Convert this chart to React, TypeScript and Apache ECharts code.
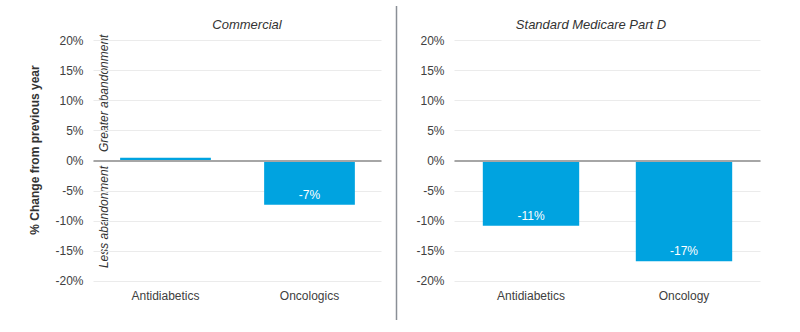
import React, { useEffect, useRef } from "react";
import * as echarts from "echarts";

const commercialCategories = ["Antidiabetics", "Oncologics"];
const commercialValues = [0.5, -7.3];
const commercialLabels = ["", "-7%"];

const medicareCategories = ["Antidiabetics", "Oncology"];
const medicareValues = [-10.8, -16.7];
const medicareLabels = ["-11%", "-17%"];

const panelTitles = ["Commercial", "Standard Medicare Part D"];
const yAxisTitle = "% Change from previous year";
const upNote = "Greater abandonment";
const downNote = "Less abandonment";

const FONT = "'Liberation Sans', Arial, sans-serif";
const BAR = "#00a3e0";
const TXT = "#404040";

export default function App() {
  const ref = useRef<HTMLDivElement>(null);
  useEffect(() => {
    if (!ref.current) return;
    const chart = echarts.init(ref.current, null, { renderer: "svg" });
    const yAxisCommon = (gridIndex: number) => ({
      type: "value",
      gridIndex,
      min: -20,
      max: 20,
      interval: 5,
      axisLine: { show: false },
      axisTick: { show: false },
      axisLabel: {
        formatter: "{value}%",
        color: TXT,
        fontSize: 12,
        fontFamily: FONT,
        margin: 10,
      },
      splitLine: { lineStyle: { color: "#ebebeb", width: 1 } },
    });
    const xAxisCommon = (gridIndex: number, data: string[]) => ({
      type: "category",
      gridIndex,
      data,
      position: "bottom",
      axisLine: { show: false, onZero: false },
      axisTick: { show: false },
      axisLabel: { color: TXT, fontSize: 12, fontFamily: FONT, margin: 9 },
      splitLine: { show: false },
    });
    const seriesCommon = (idx: number, values: number[], labels: string[]) => ({
      type: "bar",
      xAxisIndex: idx,
      yAxisIndex: idx,
      data: values,
      barWidth: "63%",
      itemStyle: { color: BAR },
      label: {
        show: true,
        position: "insideBottom",
        distance: 4,
        color: "#ffffff",
        fontSize: 12,
        fontFamily: FONT,
        formatter: (p: any) => labels[p.dataIndex],
      },
      markLine: {
        silent: true,
        symbol: "none",
        label: { show: false },
        lineStyle: { color: "#a6a6a6", width: 2, type: "solid" },
        data: [{ yAxis: 0 }],
      },
    });
    chart.setOption({
      animation: false,
      grid: [
        { left: 93.5, width: 288, top: 40.5, height: 240.5 },
        { left: 454.5, width: 306, top: 40.5, height: 240.5 },
      ],
      xAxis: [xAxisCommon(0, commercialCategories), xAxisCommon(1, medicareCategories)],
      yAxis: [yAxisCommon(0), yAxisCommon(1)],
      series: [
        seriesCommon(0, commercialValues, commercialLabels),
        seriesCommon(1, medicareValues, medicareLabels),
      ],
      graphic: [
        {
          type: "text",
          x: 247,
          y: 24,
          style: {
            text: panelTitles[0],
            fill: "#333333",
            fontSize: 13,
            fontStyle: "italic",
            fontFamily: FONT,
            align: "center",
            verticalAlign: "middle",
          },
        },
        {
          type: "text",
          x: 591,
          y: 24,
          style: {
            text: panelTitles[1],
            fill: "#333333",
            fontSize: 13,
            fontStyle: "italic",
            fontFamily: FONT,
            align: "center",
            verticalAlign: "middle",
          },
        },
        {
          type: "text",
          x: 35,
          y: 150,
          rotation: Math.PI / 2,
          style: {
            text: yAxisTitle,
            fill: "#333333",
            fontSize: 12,
            fontWeight: "bold",
            fontFamily: FONT,
            align: "center",
            verticalAlign: "middle",
          },
        },
        {
          type: "text",
          x: 104,
          y: 152,
          rotation: Math.PI / 2,
          style: {
            text: upNote,
            fill: "#333333",
            fontSize: 12,
            fontStyle: "italic",
            fontFamily: FONT,
            align: "left",
            verticalAlign: "middle",
          },
        },
        {
          type: "text",
          x: 104,
          y: 166,
          rotation: Math.PI / 2,
          style: {
            text: downNote,
            fill: "#333333",
            fontSize: 12,
            fontStyle: "italic",
            fontFamily: FONT,
            align: "right",
            verticalAlign: "middle",
          },
        },
        {
          type: "line",
          shape: { x1: 396.5, y1: 6, x2: 396.5, y2: 320 },
          style: { stroke: "#8a8f96", lineWidth: 1.5 },
        },
      ],
    });
    return () => chart.dispose();
  }, []);
  return (
    <div
      ref={ref}
      style={{ position: "absolute", left: 0, top: 0, width: 800, height: 332 }}
    />
  );
}
